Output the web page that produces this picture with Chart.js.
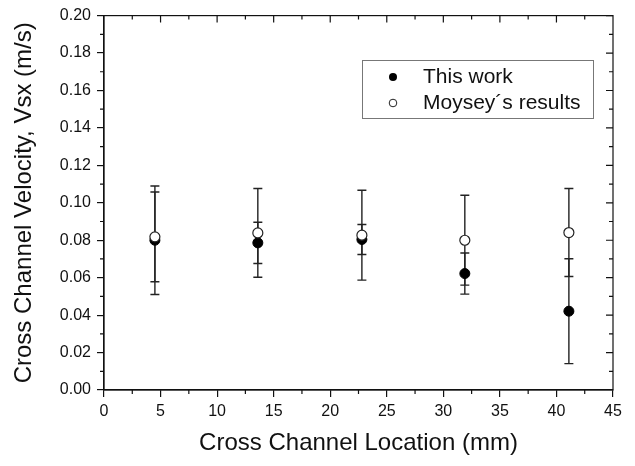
<!DOCTYPE html>
<html>
<head>
<meta charset="utf-8">
<script src="https://cdn.jsdelivr.net/npm/chart.js@4.4.1/dist/chart.umd.min.js"></script>
<style>
    body { margin: 0; background: #fff; }
</style>
</head>
<body>
<canvas id="graphe" width="635" height="466"></canvas>
<script>
// positions (mm) et vitesses (m/s)
const positions = [4.5, 13.6, 22.8, 31.9, 41.1];
const ceTravail = [0.0800, 0.0786, 0.0804, 0.0622, 0.0421];
const ceTravailErr = [0.029, 0.011, 0.008, 0.011, 0.028];
const moysey = [0.0818, 0.0839, 0.0827, 0.0800, 0.0841];
const moyseyErr = [0.024, 0.0237, 0.024, 0.024, 0.0235];
const legendes = ['This work', 'Moysey\u00b4s results'];
const titreX = 'Cross Channel Location (mm)';
const titreY = 'Cross Channel Velocity, Vsx (m/s)';

const police = "'Liberation Sans', Arial, sans-serif";
Chart.defaults.font.family = police;
Chart.defaults.color = '#111';

function points(valeurs) {
    return positions.map((x, i) => ({x: x, y: valeurs[i]}));
}

function dessinerBarres(ctx, sx, sy, valeurs, erreurs) {
    ctx.save();
    ctx.strokeStyle = '#222';
    ctx.lineWidth = 1.4;
    for (let i = 0; i < positions.length; i++) {
        let px = sx.getPixelForValue(positions[i]);
        let haut = sy.getPixelForValue(valeurs[i] + erreurs[i]);
        let bas = sy.getPixelForValue(valeurs[i] - erreurs[i]);
        ctx.beginPath();
        ctx.moveTo(px, haut); ctx.lineTo(px, bas);
        ctx.moveTo(px - 4.5, haut); ctx.lineTo(px + 4.5, haut);
        ctx.moveTo(px - 4.5, bas); ctx.lineTo(px + 4.5, bas);
        ctx.stroke();
    }
    ctx.restore();
}

const decor = {
    id: 'decor',
    beforeDatasetsDraw(chart) {
        let ctx = chart.ctx;
        let sx = chart.scales.x, sy = chart.scales.y;
        dessinerBarres(ctx, sx, sy, ceTravail, ceTravailErr);
        dessinerBarres(ctx, sx, sy, moysey, moyseyErr);
    },
    afterDraw(chart) {
        let ctx = chart.ctx;
        let a = chart.chartArea;
        let sx = chart.scales.x, sy = chart.scales.y;
        ctx.save();
        ctx.strokeStyle = '#111';
        ctx.lineWidth = 1.2;
        // cadre
        ctx.strokeRect(a.left, a.top, a.right - a.left, a.bottom - a.top);
        ctx.beginPath();
        // graduations secondaires
        for (let v = 2.5; v < 45; v += 5) {
            let px = sx.getPixelForValue(v);
            ctx.moveTo(px, a.bottom); ctx.lineTo(px, a.bottom + 4);
            ctx.moveTo(px, a.top); ctx.lineTo(px, a.top + 4);
        }
        for (let v = 0.01; v < 0.2; v += 0.02) {
            let py = sy.getPixelForValue(v);
            ctx.moveTo(a.left, py); ctx.lineTo(a.left - 4, py);
            ctx.moveTo(a.right, py); ctx.lineTo(a.right - 4, py);
        }
        // graduations principales du haut et de droite
        for (let v = 5; v < 45; v += 5) {
            let px = sx.getPixelForValue(v);
            ctx.moveTo(px, a.top); ctx.lineTo(px, a.top + 7);
        }
        for (let v = 0.02; v < 0.2; v += 0.02) {
            let py = sy.getPixelForValue(v);
            ctx.moveTo(a.right, py); ctx.lineTo(a.right - 7, py);
        }
        ctx.stroke();

        // legende
        ctx.strokeStyle = '#777';
        ctx.lineWidth = 1;
        ctx.strokeRect(362.5, 60.5, 231, 58);
        ctx.font = '21px ' + police;
        ctx.fillStyle = '#111';
        ctx.textBaseline = 'middle';
        ctx.fillText(legendes[0], 423, 77);
        ctx.fillText(legendes[1], 423, 103);
        ctx.beginPath();
        ctx.arc(393, 77, 4, 0, Math.PI * 2);
        ctx.fillStyle = '#000';
        ctx.fill();
        ctx.beginPath();
        ctx.arc(393, 103, 3.8, 0, Math.PI * 2);
        ctx.fillStyle = '#fff';
        ctx.fill();
        ctx.strokeStyle = '#222';
        ctx.stroke();
        ctx.restore();
    }
};

let cvs = document.getElementById('graphe').getContext('2d');
let graphe = new Chart(cvs, {
    type: 'scatter',
    data: {
        datasets: [{
            label: legendes[0],
            data: points(ceTravail),
            backgroundColor: '#000',
            borderColor: '#000',
            pointRadius: 5,
            borderWidth: 1,
            order: 1
        }, {
            label: legendes[1],
            data: points(moysey),
            backgroundColor: '#fff',
            borderColor: '#222',
            pointRadius: 5,
            borderWidth: 1.2,
            order: 0
        }]
    },
    options: {
        responsive: false,
        animation: false,
        layout: {padding: {left: 0, right: 22, top: 15, bottom: 0}},
        plugins: {
            legend: {display: false},
            tooltip: {enabled: false}
        },
        scales: {
            x: {
                type: 'linear',
                min: 0, max: 45,
                afterFit(scale) { scale.height = 76; },
                border: {display: true, color: '#111', width: 1.2},
                grid: {drawOnChartArea: false, drawTicks: true, tickLength: 7, color: '#111', lineWidth: 1.2},
                ticks: {stepSize: 5, padding: 5, font: {size: 16}, color: '#111'},
                title: {display: true, text: titreX, font: {size: 24}, color: '#111', padding: {top: 0, bottom: 8}}
            },
            y: {
                type: 'linear',
                min: 0, max: 0.2,
                afterFit(scale) { scale.width = 104; },
                border: {display: true, color: '#111', width: 1.2},
                grid: {drawOnChartArea: false, drawTicks: true, tickLength: 7, color: '#111', lineWidth: 1.2},
                ticks: {stepSize: 0.02, padding: 6, font: {size: 16}, color: '#111',
                    callback: (v) => v.toFixed(2)},
                title: {display: true, text: titreY, font: {size: 24}, color: '#111', padding: {top: 10, bottom: 0}}
            }
        }
    },
    plugins: [decor]
});
</script>
</body>
</html>
